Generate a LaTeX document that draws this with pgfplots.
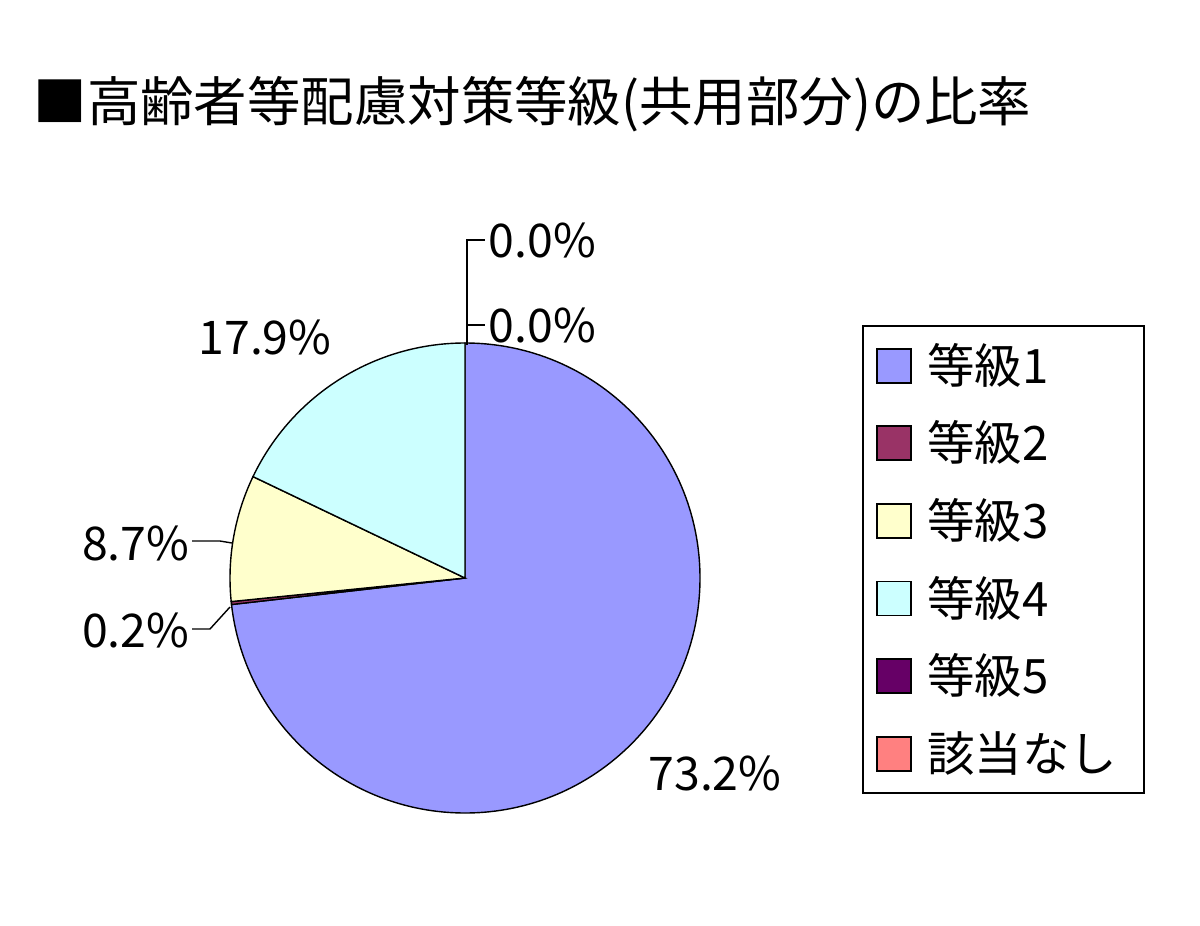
\documentclass[border=0pt]{standalone}
\usepackage{pgfplots}
\pgfplotsset{compat=1.18}
\usepackage{fontspec}
\setmainfont{Noto Sans CJK JP}
\definecolor{c1}{HTML}{9999FF}
\definecolor{c2}{HTML}{993366}
\definecolor{c3}{HTML}{FFFFCC}
\definecolor{c4}{HTML}{CCFFFF}
\definecolor{c5}{HTML}{660066}
\definecolor{c6}{HTML}{FF8080}
% shares (percent): 73.2, 0.2, 8.7, 17.9, 0.0, 0.0
% angles, clockwise from 12 o'clock: 1% = 3.6 deg
\begin{document}
\begin{tikzpicture}
\begin{axis}[
  width=12cm, height=9.25cm, scale only axis,
  xmin=0, xmax=1200, ymin=-925, ymax=0,
  hide axis, clip=false,
  legend style={at={(axis cs:862,-325)}, anchor=north west, draw=black, line width=0.7pt,
    font=\fontsize{13.5}{16}\selectfont, inner xsep=0.13cm, inner ysep=0.12cm,
    row sep=0.226cm, nodes={inner sep=0pt, text height=0.45cm, text depth=0.1cm}},
  legend cell align=left,
  legend image code/.code={\draw[#1,line width=0.5pt] (0cm,-0.17cm) rectangle (0.34cm,0.17cm);
     \path (0.49cm,0cm);},
]
\path (axis cs:0,0) rectangle (axis cs:1200,-925);
% title
\node[anchor=west, font=\fontsize{15.2}{18}\selectfont, inner sep=0pt] at (axis cs:33,-104) {■高齢者等配慮対策等級(共用部分)の比率};
% pie slices (radius 235 px = 2.35cm)
\filldraw[fill=c1, draw=black, line width=0.4pt] (axis cs:465,-578) -- ++(90:2.35cm) arc[start angle=90, end angle=-173.52, radius=2.35cm] -- cycle;
\filldraw[fill=c2, draw=black, line width=0.4pt] (axis cs:465,-578) -- ++(-173.52:2.35cm) arc[start angle=-173.52, end angle=-174.24, radius=2.35cm] -- cycle;
\filldraw[fill=c3, draw=black, line width=0.4pt] (axis cs:465,-578) -- ++(-174.24:2.35cm) arc[start angle=-174.24, end angle=-205.56, radius=2.35cm] -- cycle;
\filldraw[fill=c4, draw=black, line width=0.4pt] (axis cs:465,-578) -- ++(-205.56:2.35cm) arc[start angle=-205.56, end angle=-270, radius=2.35cm] -- cycle;
% leader lines
\draw[line width=0.4pt] (axis cs:467,-345) -- (axis cs:467,-240) -- (axis cs:485,-240);
\draw[line width=0.4pt] (axis cs:467,-325) -- (axis cs:485,-325);
\draw[line width=0.4pt] (axis cs:192,-629) -- (axis cs:210,-629) -- (axis cs:230,-607);
\draw[line width=0.4pt] (axis cs:192,-541) -- (axis cs:220,-541) -- (axis cs:232,-543);
% labels
\begin{scope}[every node/.style={font=\fontsize{13.2}{16}\selectfont, inner sep=0pt}]
\node[anchor=west] at (axis cs:488,-240) {0.0\%};
\node[anchor=west] at (axis cs:488,-325) {0.0\%};
\node at (axis cs:265,-337) {17.9\%};
\node[anchor=east] at (axis cs:190,-543) {8.7\%};
\node[anchor=east] at (axis cs:190,-630) {0.2\%};
\node at (axis cs:715,-773) {73.2\%};
\end{scope}
% legend
\addlegendimage{fill=c1, draw=black}
\addlegendentry{等級1}
\addlegendimage{fill=c2, draw=black}
\addlegendentry{等級2}
\addlegendimage{fill=c3, draw=black}
\addlegendentry{等級3}
\addlegendimage{fill=c4, draw=black}
\addlegendentry{等級4}
\addlegendimage{fill=c5, draw=black}
\addlegendentry{等級5}
\addlegendimage{fill=c6, draw=black}
\addlegendentry{該当なし\rule{0.14cm}{0pt}}
\end{axis}
\end{tikzpicture}
\end{document}
